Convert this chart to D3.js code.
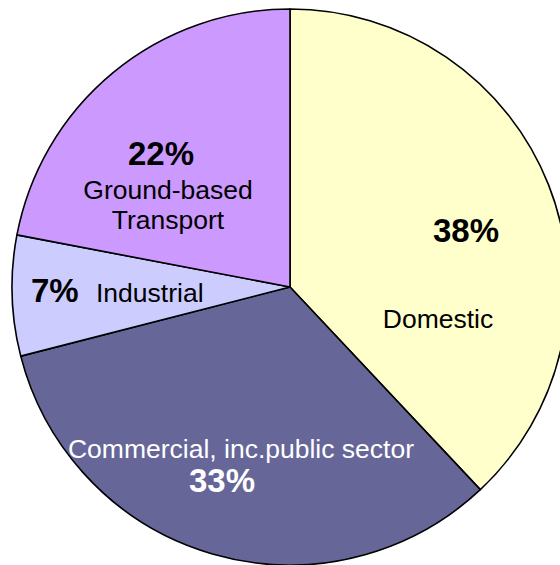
<!DOCTYPE html>
<html>
<head>
<meta charset="utf-8">
<script src="https://cdn.jsdelivr.net/npm/d3@7"></script>
<style>
  html, body { margin: 0; padding: 0; background: #fff; }
  svg { display: block; }
  text { font-family: "Liberation Sans", Arial, sans-serif; }
</style>
</head>
<body>
<div id="chart"></div>
<script>
var categories = ['Domestic', 'Commercial, inc.public sector', 'Industrial', 'Ground-based Transport'];
var shares = [38, 33, 7, 22];
var percentLabels = ['38%', '33%', '7%', '22%'];
var colours = ['#ffffcc', '#666699', '#ccccff', '#cc99ff'];

var width = 560, height = 565;
var cx = 290, cy = 287, radius = 278;

// where each label sits, relative to the pie centre
var labelLayout = [
    { pct: [176, -45], name: [[148, 41]], nameLines: ['Domestic'], anchor: 'middle', colour: '#000' },
    { pct: [-68, 205], name: [[-49, 171]], nameLines: ['Commercial, inc.public sector'], anchor: 'middle', colour: '#fff' },
    { pct: [-259, 15], name: [[-194, 15]], nameLines: ['Industrial'], anchor: 'start', pctAnchor: 'start', colour: '#000' },
    { pct: [-129, -122], name: [[-122, -88], [-122, -58]], nameLines: ['Ground-based', 'Transport'], anchor: 'middle', colour: '#000' }
];

var data = categories.map(function(c, i) {
    return { name: c, value: shares[i], pct: percentLabels[i], colour: colours[i], layout: labelLayout[i] };
});

var svg = d3.select('#chart').append('svg')
    .attr('width', width)
    .attr('height', height);

var g = svg.append('g').attr('transform', 'translate(' + cx + ',' + cy + ')');

var pie = d3.pie()
    .value(function(d) { return d.value; })
    .sort(null);

var arc = d3.arc()
    .innerRadius(0)
    .outerRadius(radius);

g.selectAll('path.slice')
    .data(pie(data))
    .enter()
    .append('path')
    .attr('class', 'slice')
    .attr('d', arc)
    .attr('fill', function(d) { return d.data.colour; })
    .attr('stroke', '#000')
    .attr('stroke-width', 1.6)
    .attr('stroke-linejoin', 'round');

// percentage labels
g.selectAll('text.pct')
    .data(data)
    .enter()
    .append('text')
    .attr('class', 'pct')
    .attr('x', function(d) { return d.layout.pct[0]; })
    .attr('y', function(d) { return d.layout.pct[1]; })
    .attr('text-anchor', function(d) { return d.layout.pctAnchor || 'middle'; })
    .attr('font-size', 33)
    .attr('font-weight', 'bold')
    .attr('fill', function(d) { return d.layout.colour; })
    .text(function(d) { return d.pct; });

// category names
data.forEach(function(d) {
    d.layout.nameLines.forEach(function(line, j) {
        g.append('text')
            .attr('x', d.layout.name[j][0])
            .attr('y', d.layout.name[j][1])
            .attr('text-anchor', d.layout.anchor)
            .attr('font-size', 26.5)
            .attr('fill', d.layout.colour)
            .text(line);
    });
});
</script>
</body>
</html>
